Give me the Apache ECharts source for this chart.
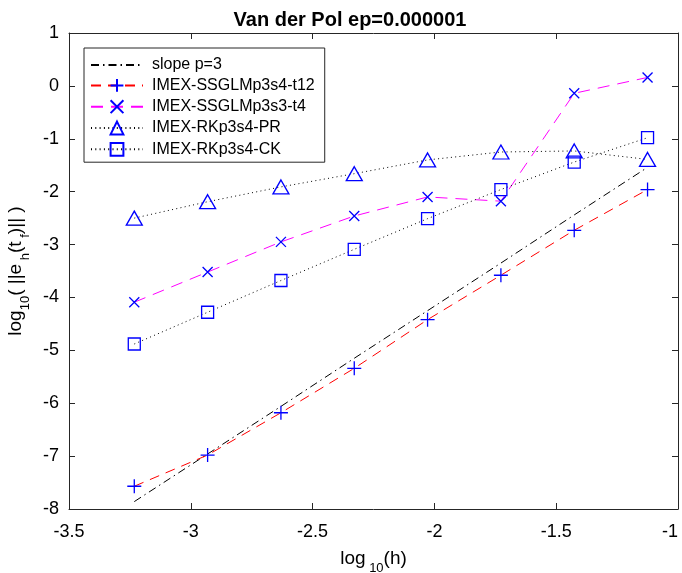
<!DOCTYPE html>
<html>
<head>
<meta charset="utf-8">
<script src="https://cdn.jsdelivr.net/npm/echarts@6/dist/echarts.min.js"></script>
<style>
html,body{margin:0;padding:0;background:#fff;}
#c{width:682px;height:573px;}
</style>
</head>
<body>
<div id="c"></div>
<script>
// log10(h)
var logH = [-3.232, -2.931, -2.630, -2.329, -2.028, -1.727, -1.426, -1.125];
// series values log10(||e_h(t_f)||)
var slopeP3 = [-7.86, -6.96, -6.06, -5.15, -4.25, -3.35, -2.44, -1.54];
var ssglmT12 = [-7.57, -6.98, -6.18, -5.34, -4.42, -3.58, -2.73, -1.96];
var ssglmT4 = [-4.09, -3.52, -2.95, -2.46, -2.10, -2.18, -0.14, 0.16];
var rkPR = [-2.50, -2.19, -1.91, -1.66, -1.40, -1.25, -1.23, -1.39];
var rkCK = [-4.88, -4.28, -3.68, -3.09, -2.51, -1.96, -1.44, -0.98];
var seriesNames = ['slope p=3', 'IMEX-SSGLMp3s4-t12', 'IMEX-SSGLMp3s3-t4', 'IMEX-RKp3s4-PR', 'IMEX-RKp3s4-CK'];
var titleText = 'Van der Pol ep=0.000001';

function pairs(ys) { return logH.map(function (x, i) { return [x, ys[i]]; }); }

var FONT = '"Liberation Sans", Arial, Helvetica, sans-serif';
var AX = '#262626';
var BLUE = '#0000ff';
var markerStyle = { color: 'none', borderColor: BLUE, borderWidth: 1.3 };
var plusPath = 'path://M5,0L5,10M0,5L10,5';
var crossPath = 'path://M0,0L10,10M10,0L0,10';

var legendData = seriesNames.map(function (n, i) {
  if (i === 0) return { name: n, itemStyle: { color: 'transparent', borderColor: 'transparent', opacity: 0 } };
  return { name: n };
});

var chart = echarts.init(document.getElementById('c'), null, { renderer: 'canvas' });
chart.setOption({
  animation: false,
  backgroundColor: '#ffffff',
  textStyle: { fontFamily: FONT },
  title: {
    text: titleText,
    left: 345, top: 5, textAlign: 'center',
    textStyle: { fontFamily: FONT, fontWeight: 'bold', fontSize: 20, color: '#000' }
  },
  grid: { left: 69, right: 4, top: 33, bottom: 64, containLabel: false, outerBoundsMode: 'none' },
  legend: {
    orient: 'vertical', left: 84, top: 48,
    backgroundColor: '#fff', borderColor: AX, borderWidth: 1,
    padding: [9, 6, 4, 6],
    itemWidth: 52, itemHeight: 16, itemGap: 3.5,
    textStyle: { fontFamily: FONT, fontSize: 16, lineHeight: 16, color: '#000', padding: [0, 4, 0, 4] },
    data: legendData
  },
  xAxis: [{
    type: 'value', min: -3.5, max: -1, interval: 0.5, position: 'bottom',
    name: '{a|log}{b| 10}{a|(h)}', nameLocation: 'middle', nameGap: 40,
    nameTextStyle: { rich: {
      a: { fontFamily: FONT, fontSize: 19, color: '#000', lineHeight: 26, verticalAlign: 'top' },
      b: { fontFamily: FONT, fontSize: 13, color: '#000', lineHeight: 26, verticalAlign: 'bottom' }
    } },
    axisLine: { show: true, onZero: false, lineStyle: { color: AX, width: 1 } },
    axisTick: { show: true, inside: true, length: 6, lineStyle: { color: AX } },
    axisLabel: { fontFamily: FONT, fontSize: 18, color: '#000', margin: 14, alignMaxLabel: 'right' },
    splitLine: { show: false }
  }, {
    type: 'value', min: -3.5, max: -1, interval: 0.5, position: 'top',
    axisLine: { show: true, onZero: false, lineStyle: { color: AX, width: 1 } },
    axisTick: { show: true, inside: true, length: 6, lineStyle: { color: AX } },
    axisLabel: { show: false }, splitLine: { show: false }
  }],
  yAxis: [{
    type: 'value', min: -8, max: 1, interval: 1, position: 'left',
    name: '{a|log}{b|10}{a|( ||e}{b| h}{a|(t}{b| f}{a|)|| )}', nameLocation: 'middle', nameGap: 32, nameRotate: 90,
    nameTextStyle: { rich: {
      a: { fontFamily: FONT, fontSize: 19, color: '#000', lineHeight: 26, verticalAlign: 'top' },
      b: { fontFamily: FONT, fontSize: 13, color: '#000', lineHeight: 26, verticalAlign: 'bottom' }
    } },
    axisLine: { show: true, onZero: false, lineStyle: { color: AX, width: 1 } },
    axisTick: { show: true, inside: true, length: 6, lineStyle: { color: AX } },
    axisLabel: { fontFamily: FONT, fontSize: 18, color: '#000', margin: 10 },
    splitLine: { show: false }
  }, {
    type: 'value', min: -8, max: 1, interval: 1, position: 'right',
    axisLine: { show: true, onZero: false, lineStyle: { color: AX, width: 1 } },
    axisTick: { show: true, inside: true, length: 6, lineStyle: { color: AX } },
    axisLabel: { show: false }, splitLine: { show: false }
  }],
  series: [{
    name: seriesNames[0], type: 'line', data: pairs(slopeP3),
    symbol: 'none', showSymbol: false,
    lineStyle: { color: '#000', width: 1, type: [8, 4, 1.5, 4] },
    itemStyle: { color: '#000' }
  }, {
    name: seriesNames[1], type: 'line', data: pairs(ssglmT12),
    symbol: plusPath, symbolSize: 14,
    lineStyle: { color: '#ff0000', width: 1, type: [10, 7] },
    itemStyle: markerStyle
  }, {
    name: seriesNames[2], type: 'line', data: pairs(ssglmT4),
    symbol: crossPath, symbolSize: 10,
    lineStyle: { color: '#ff00ff', width: 1, type: [12, 8] },
    itemStyle: markerStyle
  }, {
    name: seriesNames[3], type: 'line', data: pairs(rkPR),
    symbol: 'triangle', symbolSize: [16, 14],
    lineStyle: { color: '#000', width: 1, type: [1, 3.3] },
    itemStyle: markerStyle
  }, {
    name: seriesNames[4], type: 'line', data: pairs(rkCK),
    symbol: 'rect', symbolSize: 12,
    lineStyle: { color: '#000', width: 1, type: [1, 3.3] },
    itemStyle: markerStyle
  }]
});
</script>
</body>
</html>
